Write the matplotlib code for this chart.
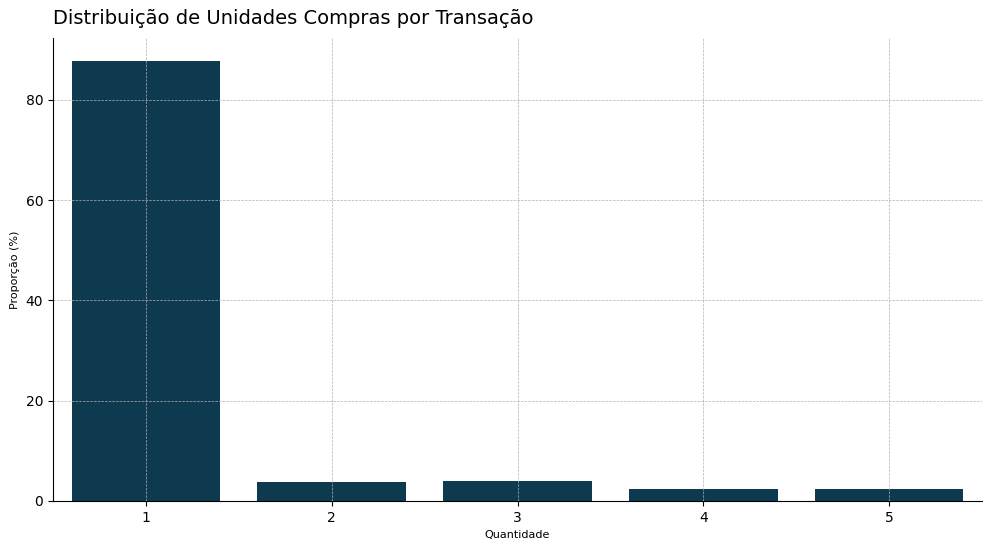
import matplotlib
matplotlib.use("Agg")
import matplotlib.pyplot as plt

quantidade = ["1", "2", "3", "4", "5"]
proporcao = [87.8, 3.8, 4.0, 2.4, 2.4]

fig = plt.figure(figsize=(9.92, 5.5), dpi=100)
ax = fig.add_axes([53/992, 49/550, 929/992, 463/550])
ax.bar(quantidade, proporcao, width=0.8, color="#0e3a50", zorder=2)
ax.set_xlim(-0.5, 4.5)
ax.set_ylim(0, 92.3)
ax.grid(True, linestyle="--", linewidth=0.5, color="#b0b0b0", zorder=3)
ax.set_axisbelow(False)
for s in ["top", "right"]:
    ax.spines[s].set_visible(False)
ax.set_title("Distribuição de Unidades Compras por Transação", loc="left", fontsize=14, pad=10)
ax.set_xlabel("Quantidade", fontsize=8)
ax.set_ylabel("Proporção (%)", fontsize=8)
fig.savefig("out.png", dpi=100)
